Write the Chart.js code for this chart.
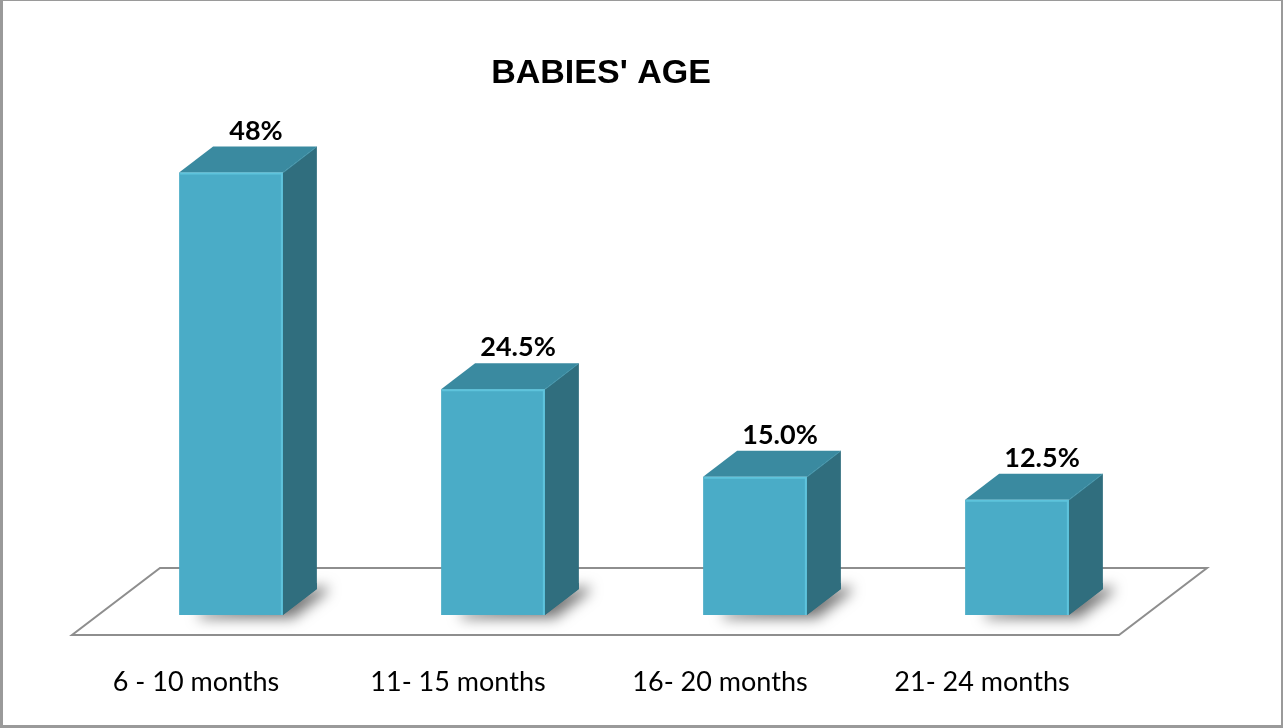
<!DOCTYPE html>
<html>
<head>
<meta charset="utf-8">
<script src="https://cdn.jsdelivr.net/npm/chart.js@4.4.1/dist/chart.umd.min.js"></script>
<style>
  html, body { margin: 0; padding: 0; background: #ffffff; }
  #wrap { width: 1283px; height: 728px; }
</style>
</head>
<body>
<div id="wrap"><canvas id="c" width="1283" height="728"></canvas></div>
<script>
// ---- data ----
const categories = ['6 - 10 months', '11- 15 months', '16- 20 months', '21- 24 months'];
const values = [48, 24.5, 15.0, 12.5];
const valueLabels = ['48%', '24.5%', '15.0%', '12.5%'];
const chartTitle = "BABIES' AGE";
const yMin = 0;
const yMax = 55;

// ---- style ----
const FRONT = '#4aacc7';
const TOP = '#3a8aa0';
const SIDE = '#306e7e';
const DEPTH_X = 34, DEPTH_Y = -26;

const bgPlugin = {
  id: 'bg',
  beforeDraw(chart) {
    const ctx = chart.ctx;
    ctx.save();
    ctx.fillStyle = '#ffffff';
    ctx.fillRect(0, 0, chart.width, chart.height);
    ctx.restore();
  },
  afterDraw(chart) {
    const ctx = chart.ctx;
    ctx.save();
    // frame
    ctx.fillStyle = '#9a9a9a';
    ctx.fillRect(0, 0, chart.width, 1);
    ctx.fillRect(0, 0, 3, chart.height);
    ctx.fillRect(chart.width - 2, 0, 2, chart.height);
    ctx.fillRect(0, chart.height - 3, chart.width, 3);
    // title
    ctx.fillStyle = '#000000';
    ctx.font = 'bold 34px "Liberation Sans", Arial, sans-serif';
    ctx.textAlign = 'center';
    ctx.textBaseline = 'alphabetic';
    ctx.fillText(chartTitle, 601, 83);
    ctx.restore();
  }
};

const threeD = {
  id: 'threeD',
  beforeDatasetsDraw(chart) {
    const ctx = chart.ctx;
    const ys = chart.scales.y;
    const ca = chart.chartArea;
    const zeroY = ys.getPixelForValue(0);
    const fy = zeroY + 20, by = zeroY - 47;
    const flx = ca.left - 28, frx = ca.right - 29, ddx = 88;
    ctx.save();
    ctx.beginPath();
    ctx.moveTo(flx, fy);
    ctx.lineTo(frx, fy);
    ctx.lineTo(frx + ddx, by);
    ctx.lineTo(flx + ddx, by);
    ctx.closePath();
    ctx.fillStyle = '#ffffff';
    ctx.fill();
    ctx.lineWidth = 2;
    ctx.strokeStyle = '#8e8e8e';
    ctx.stroke();
    // shadows
    const meta = chart.getDatasetMeta(0);
    meta.data.forEach(bar => {
      const x0 = bar.x - bar.width / 2, x1 = bar.x + bar.width / 2;
      const b = bar.base;
      ctx.save();
      ctx.shadowColor = 'rgba(0,0,0,0.55)';
      ctx.shadowBlur = 14;
      ctx.shadowOffsetX = 10;
      ctx.shadowOffsetY = 3;
      ctx.fillStyle = SIDE;
      ctx.beginPath();
      ctx.moveTo(x0 + 10, b);
      ctx.lineTo(x1, b);
      ctx.lineTo(x1 + DEPTH_X, b + DEPTH_Y);
      ctx.lineTo(x1 + DEPTH_X, b + DEPTH_Y - 6);
      ctx.lineTo(x0 + 10, b - 6);
      ctx.closePath();
      ctx.fill();
      ctx.restore();
    });
    ctx.restore();
  },
  afterDatasetsDraw(chart) {
    const ctx = chart.ctx;
    const meta = chart.getDatasetMeta(0);
    ctx.save();
    meta.data.forEach((bar, i) => {
      const x0 = bar.x - bar.width / 2, x1 = bar.x + bar.width / 2;
      const t = bar.y, b = bar.base;
      // side face
      ctx.fillStyle = SIDE;
      ctx.beginPath();
      ctx.moveTo(x1, t);
      ctx.lineTo(x1 + DEPTH_X, t + DEPTH_Y);
      ctx.lineTo(x1 + DEPTH_X, b + DEPTH_Y);
      ctx.lineTo(x1, b);
      ctx.closePath();
      ctx.fill();
      // top face
      ctx.fillStyle = TOP;
      ctx.beginPath();
      ctx.moveTo(x0, t);
      ctx.lineTo(x0 + DEPTH_X, t + DEPTH_Y);
      ctx.lineTo(x1 + DEPTH_X, t + DEPTH_Y);
      ctx.lineTo(x1, t);
      ctx.closePath();
      ctx.fill();
      // highlights on front face edges
      ctx.strokeStyle = '#5ec3dc';
      ctx.lineWidth = 2;
      ctx.beginPath();
      ctx.moveTo(x0 + 1, t + 1);
      ctx.lineTo(x1 - 1, t + 1);
      ctx.lineTo(x1 - 1, b);
      ctx.stroke();
      ctx.strokeStyle = '#4395ab';
      ctx.lineWidth = 1;
      ctx.beginPath();
      ctx.moveTo(x1 + 0.5, t);
      ctx.lineTo(x1 + DEPTH_X - 0.5, t + DEPTH_Y + 0.5);
      ctx.stroke();
      // value label
      ctx.fillStyle = '#000000';
      ctx.font = 'bold 27px Lato, "Open Sans", sans-serif';
      ctx.textAlign = 'center';
      ctx.textBaseline = 'alphabetic';
      ctx.fillText(valueLabels[i], bar.x + 25, t + DEPTH_Y - 7);
    });
    ctx.restore();
  }
};

new Chart(document.getElementById('c'), {
  type: 'bar',
  data: {
    labels: categories,
    datasets: [{
      data: values,
      backgroundColor: FRONT,
      borderWidth: 0,
      categoryPercentage: 0.4,
      barPercentage: 0.99
    }]
  },
  options: {
    responsive: false,
    devicePixelRatio: 1,
    animation: false,
    layout: { padding: { left: 100, right: 135, top: 108, bottom: 30 } },
    plugins: {
      legend: { display: false },
      title: { display: false },
      tooltip: { enabled: false }
    },
    scales: {
      x: {
        grid: { display: false, drawTicks: false },
        border: { display: false },
        afterFit(scale) { scale.height = 83; },
        ticks: {
          color: '#000000',
          font: { family: 'Lato, "Open Sans", sans-serif', size: 27 },
          padding: 51,
          labelOffset: -35,
          maxRotation: 0,
          autoSkip: false
        }
      },
      y: {
        display: false,
        min: yMin,
        max: yMax
      }
    }
  },
  plugins: [bgPlugin, threeD]
});
</script>
</body>
</html>
